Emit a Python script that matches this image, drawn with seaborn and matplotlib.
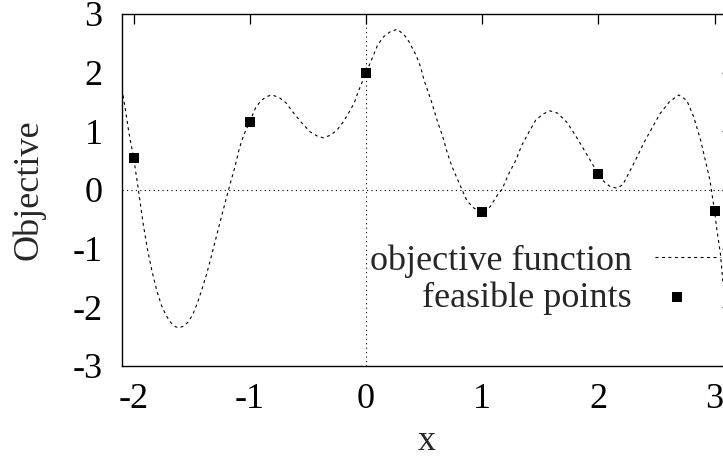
import matplotlib
matplotlib.use("Agg")
import matplotlib.pyplot as plt
import seaborn as sns
import pandas as pd

# ---- data ----
curve_x = [-2.10, -2.07, -2.04, -2.00, -1.96, -1.92, -1.88, -1.84, -1.80, -1.76,
           -1.72, -1.68, -1.64, -1.61, -1.57, -1.53, -1.49, -1.45, -1.41, -1.37,
           -1.33, -1.29, -1.25, -1.21, -1.17, -1.13, -1.09, -1.05, -1.00, -0.97,
           -0.95, -0.91, -0.86, -0.81, -0.75, -0.69, -0.63, -0.56, -0.48, -0.42,
           -0.37, -0.31, -0.25, -0.20, -0.15, -0.10, -0.07, -0.035, 0.00, 0.05,
           0.10, 0.15, 0.21, 0.27, 0.33, 0.37, 0.43, 0.47, 0.50, 0.56,
           0.61, 0.66, 0.70, 0.74, 0.79, 0.83, 0.87, 0.93, 1.00, 1.03,
           1.07, 1.13, 1.17, 1.23, 1.29, 1.34, 1.40, 1.46, 1.52, 1.58,
           1.65, 1.73, 1.80, 1.86, 1.92, 2.00, 2.05, 2.10, 2.16, 2.21,
           2.26, 2.32, 2.39, 2.46, 2.53, 2.61, 2.69, 2.76, 2.82, 2.88,
           2.92, 2.96, 3.00, 3.02, 3.05, 3.07, 3.09]
curve_y = [1.72, 1.36, 0.97, 0.55, 0.02, -0.55, -1.02, -1.40, -1.72, -1.97,
           -2.14, -2.26, -2.33, -2.35, -2.32, -2.25, -2.12, -1.92, -1.68, -1.42,
           -1.12, -0.81, -0.50, -0.20, 0.10, 0.38, 0.71, 0.95, 1.16, 1.31,
           1.40, 1.51, 1.59, 1.62, 1.58, 1.49, 1.33, 1.16, 0.99, 0.92,
           0.89, 0.93, 1.02, 1.15, 1.31, 1.49, 1.66, 1.83, 2.00, 2.23,
           2.47, 2.61, 2.70, 2.74, 2.64, 2.53, 2.30, 2.10, 1.87, 1.53,
           1.20, 0.91, 0.63, 0.40, 0.17, -0.01, -0.19, -0.31, -0.38, -0.37,
           -0.28, -0.09, 0.01, 0.28, 0.51, 0.76, 0.98, 1.19, 1.29, 1.35,
           1.31, 1.15, 0.94, 0.74, 0.54, 0.27, 0.14, 0.06, 0.03, 0.09,
           0.28, 0.51, 0.80, 1.05, 1.30, 1.50, 1.62, 1.53, 1.25, 0.85,
           0.51, 0.17, -0.36, -0.68, -1.08, -1.53, -1.85]

point_x = [-2, -1, 0, 1, 2, 3]
point_y = [0.54, 1.16, 2.00, -0.38, 0.27, -0.36]

x_ticks = [-2, -1, 0, 1, 2, 3]
y_ticks = [-3, -2, -1, 0, 1, 2, 3]
x_label = "x"
y_label = "Objective"
curve_label = "objective function"
points_label = "feasible points"

# ---- style ----
sns.set_theme(style="white")
plt.rcParams["font.family"] = ["Liberation Serif", "DejaVu Serif"]
plt.rcParams["axes.unicode_minus"] = False
plt.rcParams["axes.edgecolor"] = "black"
plt.rcParams["axes.linewidth"] = 1.0
FS = 26

W, H = 723, 459
fig = plt.figure(figsize=(W / 100, H / 100), dpi=100)
ax_l, ax_r, ax_t, ax_b = 122, 732, 14, 366
ax = fig.add_axes([ax_l / W, 1 - ax_b / H, (ax_r - ax_l) / W, (ax_b - ax_t) / H])

curve_df = pd.DataFrame({"x": curve_x, "y": curve_y})
pts_df = pd.DataFrame({"x": point_x, "y": point_y})

ax.axhline(0, color="black", lw=0.8, ls=(0, (1, 3)), zorder=1)
ax.axvline(0, color="black", lw=0.8, ls=(0, (1, 3)), zorder=1)

sns.lineplot(data=curve_df, x="x", y="y", ax=ax, color="black", lw=0.8,
             linestyle=(0, (2.7, 3.1)), estimator=None, sort=False,
             label=curve_label, legend=False, zorder=2)
sns.scatterplot(data=pts_df, x="x", y="y", ax=ax, color="black", marker="s",
                s=52, linewidth=0, label=points_label, legend=False, zorder=3)

ax.set_xlim(-2.1, 3.15)
ax.set_ylim(-3, 3)
ax.set_xticks(x_ticks)
ax.set_yticks(y_ticks)
ax.set_xticklabels([str(t) for t in x_ticks])
ax.set_yticklabels([str(t) for t in y_ticks])
ax.tick_params(axis="both", direction="in", length=7.2, width=0.9,
               top=True, right=True, labelsize=FS, colors="black")
ax.tick_params(axis="x", pad=12)
ax.tick_params(axis="y", pad=14)
for s in ax.spines.values():
    s.set_visible(True)
    s.set_color("black")
    s.set_linewidth(1.0)

ax.set_xlabel(x_label, fontsize=FS, va="center")
ax.set_ylabel(y_label, fontsize=FS, va="center")
ax.xaxis.set_label_coords((427 - ax_l) / (ax_r - ax_l), -(441 - ax_b) / (ax_b - ax_t))
ax.yaxis.set_label_coords(-(ax_l - 29) / (ax_r - ax_l), 0.5)

handles, labels = ax.get_legend_handles_labels()
hmap = dict(zip(labels, handles))

leg1 = ax.legend([hmap[curve_label]], [curve_label], loc="center right",
                 bbox_to_anchor=(720 / W, 1 - 261 / H), bbox_transform=fig.transFigure,
                 frameon=False, fontsize=FS, markerfirst=False, borderpad=0,
                 borderaxespad=0, handlelength=1.8, handletextpad=0.64)
ax.add_artist(leg1)
leg2 = ax.legend([hmap[points_label]], [points_label], loc="center right",
                 bbox_to_anchor=(699 / W, 1 - 298 / H), bbox_transform=fig.transFigure,
                 frameon=False, fontsize=FS, markerfirst=False, borderpad=0,
                 borderaxespad=0, handlelength=1.22, handletextpad=0.64,
                 scatterpoints=1)

fig.savefig("out.png", dpi=100)
